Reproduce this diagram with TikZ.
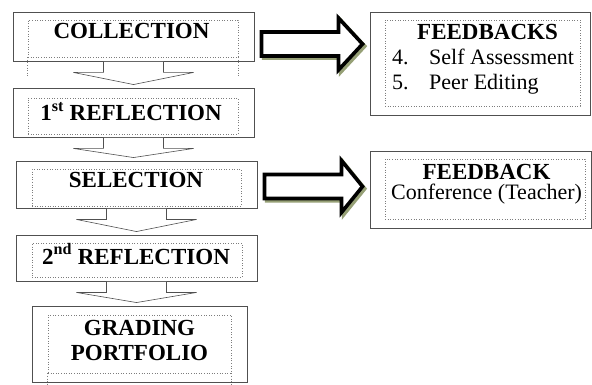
\documentclass[tikz,border=0pt]{standalone}
\usepackage{fontspec}
\setmainfont{Liberation Serif}
\usetikzlibrary{calc,shadows}
\definecolor{boxgray}{RGB}{80,80,80}
\definecolor{framegray}{RGB}{125,125,125}
\definecolor{shadowgreen}{RGB}{150,160,118}
\tikzset{stagebox/.style={draw=boxgray, line width=0.9pt, fill=white, inner sep=0pt},
textframe/.style={draw=framegray, dotted, line width=0.6pt, inner sep=0pt},
stagetext/.style={font=\fontsize{23}{25}\selectfont\bfseries, inner sep=0pt},
listtext/.style={font=\fontsize{22}{25}\selectfont, inner sep=0pt},
downarrow/.style={draw=boxgray, line width=0.6pt, fill=white, line join=miter},
%thick outlined block arrow with an olive shadow
sidearrow/.style={draw=black, line width=3.6pt, fill=white, line join=miter,
  drop shadow={shadow xshift=2.2pt, shadow yshift=-2.2pt, fill=shadowgreen,
  draw=shadowgreen, line width=3.6pt, opacity=1}}}

\begin{document}
\begin{tikzpicture}[x=1pt,y=-1pt]
\useasboundingbox (0,0) rectangle (592,385);

% stages
\node[stagebox, minimum width=241pt, minimum height=49pt] (col) at (133.5,36.5) {};
\node[stagebox, minimum width=241pt, minimum height=49pt] (ref1) at (133.5,112.5) {};
\node[stagebox, minimum width=241pt, minimum height=47pt] (sel) at (136.5,184.5) {};
\node[stagebox, minimum width=241pt, minimum height=46pt] (ref2) at (136.5,258) {};
\node[stagebox, minimum width=215pt, minimum height=76pt] (grad) at (139.5,344) {};

% feedback boxes
\node[stagebox, minimum width=220pt, minimum height=103pt] (fbone) at (480,63.5) {};
\node[stagebox, minimum width=221pt, minimum height=77pt] (fbtwo) at (480.5,189.5) {};

% dotted text frames
\node[textframe, minimum width=210pt, minimum height=37pt] (colf) at (133,38.5) {};
\node[textframe, minimum width=210pt, minimum height=36pt] (ref1f) at (133,116) {};
\node[textframe, minimum width=209pt, minimum height=37pt] (self) at (136.5,187.5) {};
\node[textframe, minimum width=210pt, minimum height=34pt] (ref2f) at (137,260) {};
\node[textframe, minimum width=183pt, minimum height=58pt] (gradf) at (139.5,344) {};
\node[textframe, minimum width=195pt, minimum height=86pt] (fbonef) at (482.5,63) {};
\node[textframe, minimum width=200pt, minimum height=60pt] (fbtwof) at (485,189) {};
\draw[textframe] (colf.south west) -- ++(0,20) (colf.south east) -- ++(0,20);
\draw[textframe] (gradf.south west) -- ++(0,12) (gradf.south east) -- ++(0,12);

% down arrows
\foreach \a/\b in {col/ref1, ref1/sel, sel/ref2, ref2/grad}
  \draw[downarrow] ($(\a.south)+(-30,0.5)$) -- ($(\a.south)+(-30,11)$)
    -- ($(\a.south)+(-60,11)$) -- ($(\a.south |- \b.north)+(0,-3)$)
    -- ($(\a.south)+(60,11)$) -- ($(\a.south)+(30,11)$)
    -- ($(\a.south)+(30,0.5)$);

% side arrows
\foreach \a/\b/\dy in {col/fbone/7.5, sel/fbtwo/2}
  \draw[sidearrow] ($(\a.east)+(7,\dy-12)$) -- ($(\a.east)+(84,\dy-12)$)
    -- ($(\a.east)+(84,\dy-26)$) -- ($(\b.west |- \a.east)+(-7,\dy)$)
    -- ($(\a.east)+(84,\dy+26)$) -- ($(\a.east)+(84,\dy+12)$)
    -- ($(\a.east)+(7,\dy+12)$) -- cycle;

% texts
\node[stagetext, anchor=base] (colt) at (131.5,39) {COLLECTION};
\node[stagetext, anchor=base] (ref1t) at (131,121) {1\textsuperscript{st} REFLECTION};
\node[stagetext, anchor=base] (selt) at (136,188) {SELECTION};
\node[stagetext, anchor=base] (ref2t) at (136,264) {2\textsuperscript{nd} REFLECTION};
\node[stagetext, align=center] (gradt) at (139.5,340) {GRADING\\PORTFOLIO};
\node[stagetext, anchor=base] (fbonet) at (487.5,40) {FEEDBACKS};
\node[listtext, anchor=base west] (nfour) at (392,65) {4.};
\node[listtext, anchor=base west] (selfas) at (429,65) {Self Assessment};
\node[listtext, anchor=base west] (nfive) at (392,90) {5.};
\node[listtext, anchor=base west] (peer) at (429,90) {Peer Editing};
\node[stagetext, anchor=base] (fbtwot) at (486.5,180) {FEEDBACK};
\node[listtext, anchor=base] (conf) at (486.5,200) {Conference (Teacher)};

\end{tikzpicture}
\end{document}
